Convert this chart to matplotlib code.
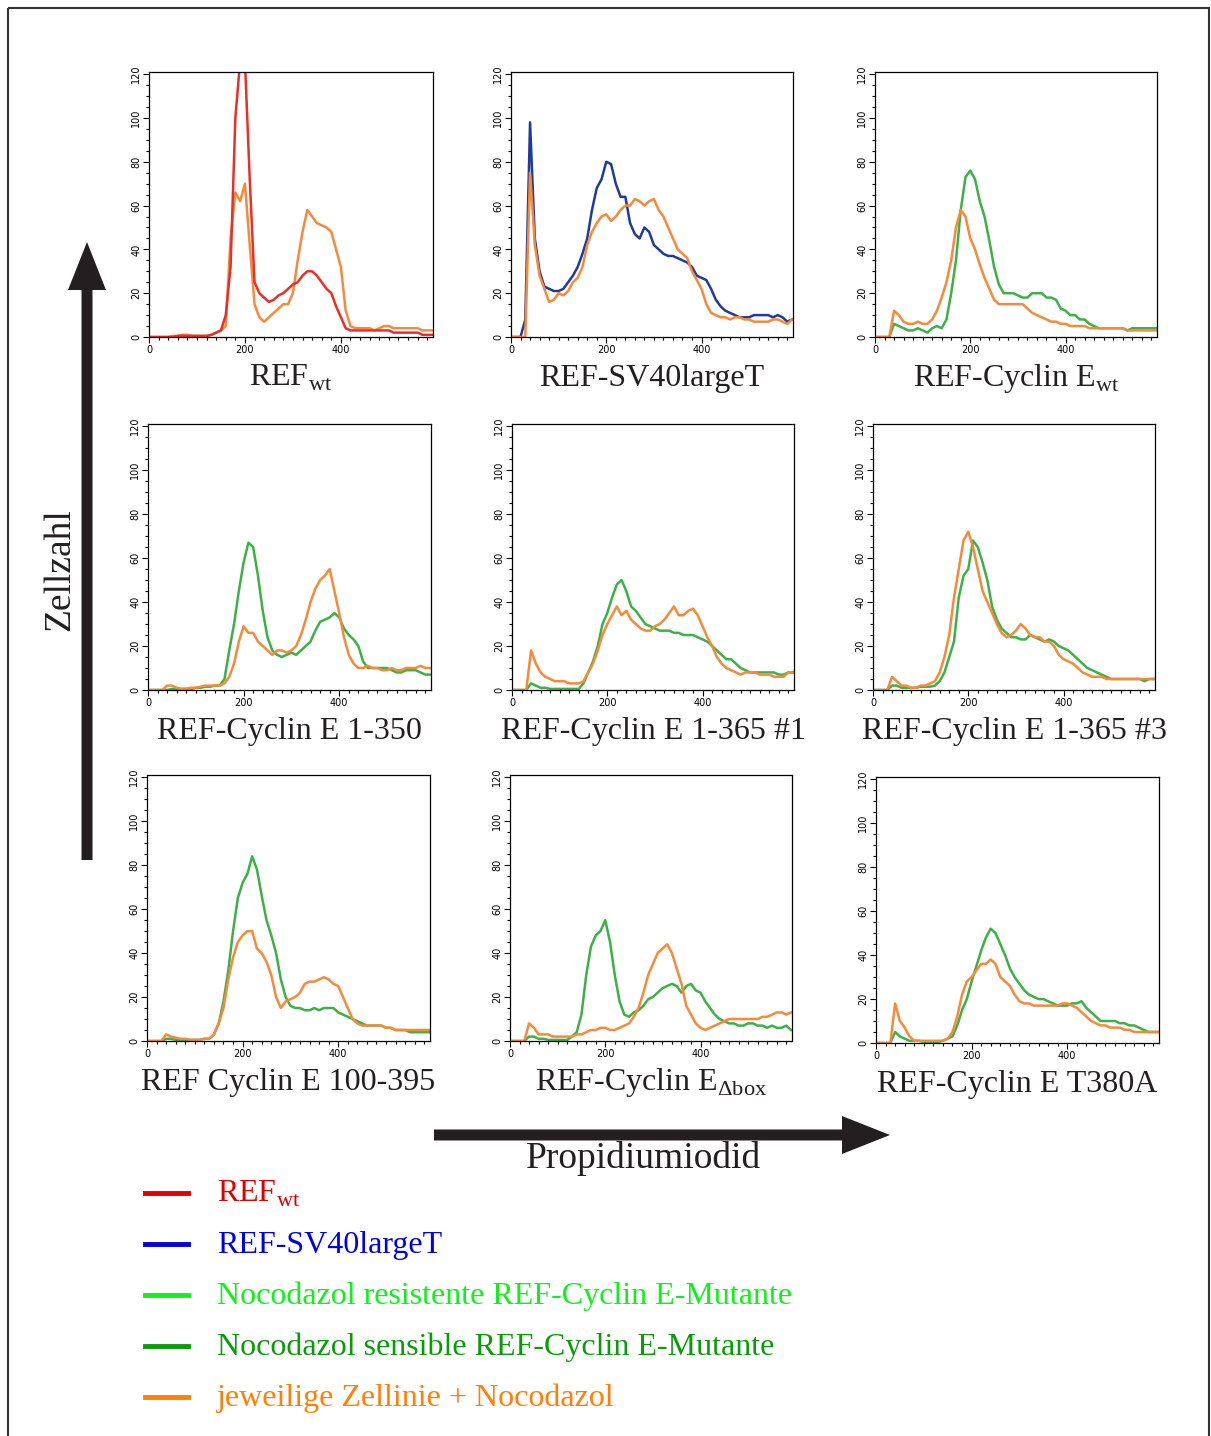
import numpy as np
import matplotlib
matplotlib.use('Agg')
import matplotlib.pyplot as plt
from matplotlib.patches import FancyArrow, Rectangle
from matplotlib.lines import Line2D
from matplotlib.ticker import MultipleLocator

plt.rcParams['font.family'] = ['Liberation Serif', 'DejaVu Serif']
plt.rcParams['mathtext.fontset'] = 'custom'
plt.rcParams['mathtext.rm'] = 'Liberation Serif'

# Kanal (Propidiumiodid) in 10er Schritten, 0 ... 590
kanal = np.arange(0, 600, 10)

# REF wt
wt_rot = [0, 0, 0, 0, 0, 0, 0.5, 0.5, 0.5, 0.5,
          0.5, 0.5, 0.5, 1, 2, 3, 10, 32, 100, 126,
          126, 72, 25, 20, 18, 16, 17, 19, 20, 22,
          24, 25, 28, 30, 30, 28, 25, 22, 20, 14,
          9, 4, 3, 3, 3, 3, 3, 3, 3, 3,
          3, 2, 2, 2, 2, 2, 2, 1, 1, 1]
wt_noco = [0, 0, 0, 0, 0, 0.5, 0.5, 1, 1, 0.5,
           0.5, 0.5, 0.5, 1, 2, 3, 5, 45, 66, 62,
           70, 42, 15, 9, 7, 9, 11, 13, 15, 15,
           20, 35, 48, 58, 55, 52, 51, 50, 48, 40,
           32, 12, 5, 4, 4, 4, 4, 3, 4, 5,
           5, 4, 4, 4, 4, 4, 4, 3, 3, 3]

# REF-SV40largeT
sv40_blau = [0, 0, 0, 8, 98, 45, 30, 23, 22, 21,
             21, 22, 25, 28, 32, 38, 45, 58, 68, 72,
             80, 79, 70, 64, 64, 52, 47, 45, 50, 48,
             42, 40, 38, 37, 37, 36, 35, 34, 32, 28,
             27, 26, 22, 17, 14, 12, 11, 10, 9, 9,
             9, 10, 10, 10, 10, 9, 10, 9, 7, 8]
sv40_noco = [0, 0, 0, 0, 75, 42, 28, 22, 16, 17,
             20, 19, 21, 25, 27, 32, 42, 48, 52, 55,
             56, 53, 55, 58, 60, 60, 63, 62, 60, 62,
             63, 58, 55, 50, 45, 40, 38, 36, 30, 26,
             22, 15, 11, 10, 9, 9, 8, 9, 9, 8,
             8, 7, 7, 7, 7, 8, 8, 7, 6, 8]

# REF-Cyclin E wt
ewt_gruen = [0, 0, 0, 0, 6, 5, 4, 3, 3, 4,
             3, 2, 4, 5, 4, 8, 20, 35, 58, 73,
             76, 72, 62, 55, 44, 32, 24, 20, 20, 20,
             19, 18, 18, 20, 20, 20, 18, 18, 17, 13,
             12, 10, 10, 8, 8, 6, 5, 4, 4, 4,
             4, 4, 4, 3, 4, 4, 4, 4, 4, 4]
ewt_noco = [0, 0, 0, 0, 12, 10, 7, 6, 6, 7,
            6, 6, 8, 12, 18, 25, 35, 50, 58, 55,
            45, 40, 33, 27, 22, 17, 15, 15, 15, 15,
            15, 15, 13, 11, 10, 9, 8, 7, 7, 6,
            6, 5, 5, 5, 5, 4, 4, 4, 4, 4,
            4, 4, 4, 3, 3, 3, 3, 3, 3, 3]

# REF-Cyclin E 1-350
e350_gruen = [0, 0, 0, 0, 0, 0.5, 0.5, 0.5, 0.5, 0.5,
              1, 1, 1.5, 1.5, 2, 2, 5, 18, 30, 45,
              58, 67, 65, 52, 36, 24, 18, 16, 15, 16,
              17, 16, 18, 20, 22, 27, 31, 32, 33, 35,
              33, 28, 25, 23, 20, 13, 10, 10, 10, 10,
              10, 9, 8, 8, 9, 9, 9, 8, 7, 7]
e350_noco = [0, 0, 0, 0, 2, 2, 1, 0.5, 0.5, 1,
             1, 1.5, 2, 2, 2, 2, 3, 6, 12, 22,
             29, 26, 26, 22, 20, 18, 16, 18, 18, 17,
             18, 20, 25, 32, 40, 46, 50, 52, 55, 45,
             35, 24, 16, 12, 10, 10, 11, 10, 10, 9,
             9, 10, 9, 9, 10, 10, 10, 11, 10, 10]

# REF-Cyclin E 1-365 #1
e365a_gruen = [0, 0, 0, 0, 3, 2, 1, 1, 0.5, 0.5,
               0.5, 0.5, 0.5, 0.5, 0.5, 3, 8, 13, 20, 30,
               35, 42, 48, 50, 45, 38, 36, 33, 30, 29,
               28, 27, 27, 27, 26, 26, 25, 25, 25, 24,
               23, 22, 20, 18, 16, 14, 14, 12, 10, 9,
               8, 8, 8, 8, 8, 8, 7, 7, 8, 8]
e365a_noco = [0, 0, 0, 0, 18, 12, 8, 6, 5, 4,
              4, 4, 3, 3, 3, 4, 8, 12, 18, 25,
              30, 34, 38, 34, 36, 32, 30, 28, 27, 27,
              29, 30, 32, 35, 38, 34, 34, 36, 37, 34,
              29, 24, 20, 15, 12, 10, 9, 8, 7, 8,
              8, 8, 7, 7, 7, 6, 6, 6, 8, 8]

# REF-Cyclin E 1-365 #3
e365c_gruen = [0, 0, 0, 0, 2, 2, 1, 1, 1, 1,
               1.5, 1.5, 1.5, 2, 4, 8, 15, 22, 42, 52,
               55, 68, 65, 58, 50, 38, 32, 28, 26, 24,
               24, 23, 23, 25, 24, 23, 22, 23, 22, 20,
               19, 18, 16, 14, 12, 10, 9, 8, 7, 6,
               5, 5, 5, 5, 5, 5, 5, 4, 5, 5]
e365c_noco = [0, 0, 0, 0, 6, 4, 2, 2, 1, 1,
              2, 2, 3, 4, 8, 15, 25, 42, 55, 68,
              72, 65, 55, 45, 40, 35, 30, 26, 24, 25,
              27, 30, 28, 25, 24, 24, 22, 22, 20, 16,
              14, 13, 12, 10, 8, 7, 6, 6, 6, 5,
              5, 5, 5, 5, 5, 5, 5, 5, 5, 5]

# REF Cyclin E 100-395
e100_gruen = [0, 0, 0, 0, 1, 1, 0.5, 0.5, 0.5, 0.5,
              0.5, 0.5, 1, 1, 3, 8, 18, 32, 50, 65,
              72, 76, 84, 78, 66, 55, 48, 40, 28, 20,
              16, 15, 15, 14, 14, 15, 14, 15, 15, 15,
              13, 12, 11, 10, 9, 8, 7, 7, 7, 7,
              6, 6, 5, 5, 5, 4, 4, 4, 4, 4]
e100_noco = [0, 0, 0, 0, 3, 2, 1.5, 1, 1, 0.5,
             0.5, 0.5, 1, 1, 3, 8, 15, 28, 38, 45,
             48, 50, 50, 42, 40, 36, 30, 20, 15, 18,
             19, 20, 22, 26, 27, 27, 28, 29, 28, 26,
             25, 20, 15, 10, 8, 7, 7, 7, 7, 7,
             6, 6, 5, 5, 5, 5, 5, 5, 5, 5]

# REF-Cyclin E delta box
dbox_gruen = [0, 0, 0, 0, 2, 2, 1, 1, 0.5, 0.5,
              0.5, 0.5, 0.5, 2, 4, 12, 30, 43, 48, 50,
              55, 45, 30, 18, 12, 11, 13, 14, 16, 19,
              20, 22, 24, 25, 26, 25, 22, 25, 26, 23,
              22, 18, 15, 12, 10, 9, 8, 8, 7, 7,
              8, 8, 7, 7, 6, 7, 6, 6, 7, 5]
dbox_noco = [0, 0, 0, 0, 8, 6, 3, 3, 3, 2,
             2, 2, 2, 2, 3, 3, 4, 5, 5, 6,
             6, 5, 5, 6, 7, 8, 11, 15, 22, 30,
             35, 40, 42, 44, 40, 33, 26, 16, 12, 8,
             6, 5, 6, 7, 8, 9, 10, 10, 10, 10,
             10, 10, 10, 11, 11, 12, 13, 13, 12, 13]

# REF-Cyclin E T380A
t380_gruen = [0, 0, 0, 0, 5, 3, 2, 1, 1, 1,
              0.5, 0.5, 0.5, 0.5, 1, 2, 3, 8, 15, 20,
              28, 35, 42, 48, 52, 50, 45, 40, 34, 30,
              27, 24, 22, 21, 20, 20, 19, 18, 17, 17,
              17, 18, 18, 19, 16, 14, 12, 10, 10, 10,
              10, 9, 9, 8, 8, 7, 6, 5, 5, 5]
t380_noco = [0, 0, 0, 0, 18, 10, 7, 3, 1, 1,
             1, 1, 1, 1, 1, 2, 5, 12, 22, 28,
             30, 33, 36, 36, 38, 36, 30, 28, 26, 22,
             19, 18, 18, 17, 17, 17, 17, 17, 17, 18,
             18, 17, 16, 14, 12, 10, 9, 8, 8, 7,
             7, 7, 6, 6, 5, 5, 5, 5, 5, 5]

titel = ['REF$_{\\mathrm{wt}}$', 'REF-SV40largeT', 'REF-Cyclin E$_{\\mathrm{wt}}$',
         'REF-Cyclin E 1-350', 'REF-Cyclin E 1-365 #1', 'REF-Cyclin E 1-365 #3',
         'REF Cyclin E 100-395', 'REF-Cyclin E$_{\\mathrm{\u0394box}}$', 'REF-Cyclin E T380A']

# Farben der Kurven
c_rot = '#e8302a'
c_blau = '#1f3b9b'
c_gruen = '#3db048'
c_orange = '#f58a3c'

kurven = [
    [(wt_noco, c_orange), (wt_rot, c_rot)],
    [(sv40_blau, c_blau), (sv40_noco, c_orange)],
    [(ewt_gruen, c_gruen), (ewt_noco, c_orange)],
    [(e350_gruen, c_gruen), (e350_noco, c_orange)],
    [(e365a_gruen, c_gruen), (e365a_noco, c_orange)],
    [(e365c_gruen, c_gruen), (e365c_noco, c_orange)],
    [(e100_gruen, c_gruen), (e100_noco, c_orange)],
    [(dbox_gruen, c_gruen), (dbox_noco, c_orange)],
    [(t380_gruen, c_gruen), (t380_noco, c_orange)],
]

# Position der Panels in Pixeln: links, oben, rechts, unten
panel_px = [(149, 72, 433, 337), (511, 72, 793, 337), (875, 72, 1157, 337),
            (148, 424, 431, 690), (512, 424, 794, 690), (873, 424, 1155, 690),
            (147, 775, 430, 1041), (510, 775, 792, 1041), (876, 777, 1159, 1043)]

W, H = 1211, 1436
fig = plt.figure(figsize=(W / 100, H / 100), dpi=100)

# Hintergrund-Achse in Pixelkoordinaten fuer Pfeile, Rahmen und Beschriftung
bg = fig.add_axes([0, 0, 1, 1])
bg.set_xlim(0, W)
bg.set_ylim(H, 0)
bg.axis('off')

bg.add_patch(Rectangle((8, 8), 1201, 1500, fill=False, edgecolor='#333333', linewidth=1.5))
bg.add_patch(FancyArrow(87, 860, 0, -618, width=11, head_width=38, head_length=48,
                        length_includes_head=True, color='#231f20', linewidth=0))
bg.add_patch(FancyArrow(434, 1135, 456, 0, width=11, head_width=38, head_length=48,
                        length_includes_head=True, color='#231f20', linewidth=0))
bg.text(60, 570, 'Zellzahl', rotation=90, ha='center', va='center', fontsize=27, color='#231f20')
bg.text(643, 1158, 'Propidiumiodid', ha='center', va='center', fontsize=27, color='#231f20')

for i, (l, t, r, b) in enumerate(panel_px):
    ax = fig.add_axes([l / W, 1 - b / H, (r - l) / W, (b - t) / H])
    for werte, farbe in kurven[i]:
        ax.plot(kanal, werte, color=farbe, linewidth=1.8)
    ax.set_xlim(0, 592)
    ax.set_ylim(0, 121)
    ax.set_xticks([0, 200, 400])
    ax.set_yticks([0, 20, 40, 60, 80, 100, 120])
    ax.xaxis.set_minor_locator(MultipleLocator(20))
    ax.yaxis.set_minor_locator(MultipleLocator(5))
    ax.tick_params(which='major', direction='out', length=4, width=0.8, labelsize=7, pad=1.5)
    ax.tick_params(which='minor', direction='out', length=2, width=0.8)
    for lab in ax.get_xticklabels() + ax.get_yticklabels():
        lab.set_family('DejaVu Sans')
    for lab in ax.get_yticklabels():
        lab.set_rotation(90)
        lab.set_va('center')
    for sp in ax.spines.values():
        sp.set_linewidth(0.9)
    ax.text(0.5, -0.155, titel[i], transform=ax.transAxes, ha='center', va='center',
            fontsize=23, color='#231f20')

# Legende
legende = [('REF$_{\\mathrm{wt}}$', '#e00000'),
           ('REF-SV40largeT', '#0000e6'),
           ('Nocodazol resistente REF-Cyclin E-Mutante', '#11f01c'),
           ('Nocodazol sensible REF-Cyclin E-Mutante', '#0a9a0a'),
           ('jeweilige Zellinie + Nocodazol', '#ff7f0a')]
for j, (txt, farbe) in enumerate(legende):
    y = 1193 + j * 51
    bg.add_line(Line2D([145, 188], [y, y], color=farbe, linewidth=3.5))
    bg.text(217, y + 1, txt, ha='left', va='center', fontsize=23, color=farbe)

fig.savefig('out.png', dpi=100)
